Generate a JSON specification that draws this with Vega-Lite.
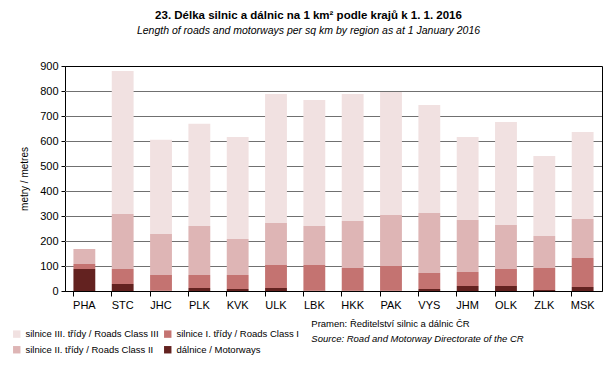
{
  "$schema": "https://vega.github.io/schema/vega-lite/v6.json",
  "width": 537,
  "height": 225,
  "autosize": "none",
  "padding": {"left": 65, "top": 66, "right": 14, "bottom": 74},
  "background": "white",
  "title": {
    "text": "23. Délka silnic a dálnic na 1 km² podle krajů k 1. 1. 2016",
    "subtitle": "Length of roads and motorways per sq km by region as at 1 January 2016",
    "anchor": "middle",
    "dx": -25,
    "offset": 24,
    "font": "Liberation Sans",
    "fontSize": 11.5,
    "fontWeight": "bold",
    "color": "black",
    "subtitleFont": "Liberation Sans",
    "subtitleFontSize": 10.5,
    "subtitleFontStyle": "italic",
    "subtitleColor": "black",
    "subtitlePadding": 4
  },
  "datasets": {
    "roads": [
      {"kraj": "PHA", "trida": "dálnice / Motorways", "k": 1, "value": 88},
      {"kraj": "PHA", "trida": "silnice I. třídy / Roads Class I", "k": 2, "value": 20},
      {"kraj": "PHA", "trida": "silnice II. třídy / Roads Class II", "k": 3, "value": 60},
      {"kraj": "PHA", "trida": "silnice III. třídy / Roads Class III", "k": 4, "value": 0},
      {"kraj": "STC", "trida": "dálnice / Motorways", "k": 1, "value": 28},
      {"kraj": "STC", "trida": "silnice I. třídy / Roads Class I", "k": 2, "value": 60},
      {"kraj": "STC", "trida": "silnice II. třídy / Roads Class II", "k": 3, "value": 220},
      {"kraj": "STC", "trida": "silnice III. třídy / Roads Class III", "k": 4, "value": 572},
      {"kraj": "JHC", "trida": "dálnice / Motorways", "k": 1, "value": 1},
      {"kraj": "JHC", "trida": "silnice I. třídy / Roads Class I", "k": 2, "value": 63},
      {"kraj": "JHC", "trida": "silnice II. třídy / Roads Class II", "k": 3, "value": 164},
      {"kraj": "JHC", "trida": "silnice III. třídy / Roads Class III", "k": 4, "value": 377},
      {"kraj": "PLK", "trida": "dálnice / Motorways", "k": 1, "value": 12},
      {"kraj": "PLK", "trida": "silnice I. třídy / Roads Class I", "k": 2, "value": 52},
      {"kraj": "PLK", "trida": "silnice II. třídy / Roads Class II", "k": 3, "value": 196},
      {"kraj": "PLK", "trida": "silnice III. třídy / Roads Class III", "k": 4, "value": 409},
      {"kraj": "KVK", "trida": "dálnice / Motorways", "k": 1, "value": 8},
      {"kraj": "KVK", "trida": "silnice I. třídy / Roads Class I", "k": 2, "value": 56},
      {"kraj": "KVK", "trida": "silnice II. třídy / Roads Class II", "k": 3, "value": 144},
      {"kraj": "KVK", "trida": "silnice III. třídy / Roads Class III", "k": 4, "value": 408},
      {"kraj": "ULK", "trida": "dálnice / Motorways", "k": 1, "value": 12},
      {"kraj": "ULK", "trida": "silnice I. třídy / Roads Class I", "k": 2, "value": 92},
      {"kraj": "ULK", "trida": "silnice II. třídy / Roads Class II", "k": 3, "value": 168},
      {"kraj": "ULK", "trida": "silnice III. třídy / Roads Class III", "k": 4, "value": 516},
      {"kraj": "LBK", "trida": "dálnice / Motorways", "k": 1, "value": 1},
      {"kraj": "LBK", "trida": "silnice I. třídy / Roads Class I", "k": 2, "value": 103},
      {"kraj": "LBK", "trida": "silnice II. třídy / Roads Class II", "k": 3, "value": 156},
      {"kraj": "LBK", "trida": "silnice III. třídy / Roads Class III", "k": 4, "value": 504},
      {"kraj": "HKK", "trida": "dálnice / Motorways", "k": 1, "value": 1},
      {"kraj": "HKK", "trida": "silnice I. třídy / Roads Class I", "k": 2, "value": 91},
      {"kraj": "HKK", "trida": "silnice II. třídy / Roads Class II", "k": 3, "value": 188},
      {"kraj": "HKK", "trida": "silnice III. třídy / Roads Class III", "k": 4, "value": 508},
      {"kraj": "PAK", "trida": "dálnice / Motorways", "k": 1, "value": 1},
      {"kraj": "PAK", "trida": "silnice I. třídy / Roads Class I", "k": 2, "value": 99},
      {"kraj": "PAK", "trida": "silnice II. třídy / Roads Class II", "k": 3, "value": 204},
      {"kraj": "PAK", "trida": "silnice III. třídy / Roads Class III", "k": 4, "value": 492},
      {"kraj": "VYS", "trida": "dálnice / Motorways", "k": 1, "value": 8},
      {"kraj": "VYS", "trida": "silnice I. třídy / Roads Class I", "k": 2, "value": 64},
      {"kraj": "VYS", "trida": "silnice II. třídy / Roads Class II", "k": 3, "value": 240},
      {"kraj": "VYS", "trida": "silnice III. třídy / Roads Class III", "k": 4, "value": 432},
      {"kraj": "JHM", "trida": "dálnice / Motorways", "k": 1, "value": 20},
      {"kraj": "JHM", "trida": "silnice I. třídy / Roads Class I", "k": 2, "value": 56},
      {"kraj": "JHM", "trida": "silnice II. třídy / Roads Class II", "k": 3, "value": 208},
      {"kraj": "JHM", "trida": "silnice III. třídy / Roads Class III", "k": 4, "value": 332},
      {"kraj": "OLK", "trida": "dálnice / Motorways", "k": 1, "value": 20},
      {"kraj": "OLK", "trida": "silnice I. třídy / Roads Class I", "k": 2, "value": 68},
      {"kraj": "OLK", "trida": "silnice II. třídy / Roads Class II", "k": 3, "value": 176},
      {"kraj": "OLK", "trida": "silnice III. třídy / Roads Class III", "k": 4, "value": 412},
      {"kraj": "ZLK", "trida": "dálnice / Motorways", "k": 1, "value": 4},
      {"kraj": "ZLK", "trida": "silnice I. třídy / Roads Class I", "k": 2, "value": 88},
      {"kraj": "ZLK", "trida": "silnice II. třídy / Roads Class II", "k": 3, "value": 128},
      {"kraj": "ZLK", "trida": "silnice III. třídy / Roads Class III", "k": 4, "value": 320},
      {"kraj": "MSK", "trida": "dálnice / Motorways", "k": 1, "value": 16},
      {"kraj": "MSK", "trida": "silnice I. třídy / Roads Class I", "k": 2, "value": 116},
      {"kraj": "MSK", "trida": "silnice II. třídy / Roads Class II", "k": 3, "value": 156},
      {"kraj": "MSK", "trida": "silnice III. třídy / Roads Class III", "k": 4, "value": 348}
    ],
    "grid": [
      {"value": 100}, {"value": 200}, {"value": 300}, {"value": 400},
      {"value": 500}, {"value": 600}, {"value": 700}, {"value": 800}
    ],
    "pramen": [
      {"kraj": "LBK", "value": -130, "text": "Pramen: Ředitelství silnic a dálnic ČR"}
    ],
    "zdroj": [
      {"kraj": "LBK", "value": -190, "text": "Source: Road and Motorway Directorate of the CR"}
    ]
  },
  "resolve": {"axis": {"x": "independent", "y": "independent"}},
  "layer": [
    {
      "data": {"name": "grid"},
      "mark": {"type": "rule", "color": "#707070", "strokeWidth": 1, "yOffset": 0.5},
      "encoding": {
        "y": {"field": "value", "type": "quantitative", "axis": null}
      }
    },
    {
      "data": {"name": "roads"},
      "mark": {"type": "bar"},
      "encoding": {
        "x": {
          "field": "kraj",
          "type": "nominal",
          "sort": null,
          "scale": {"paddingInner": 0.43, "paddingOuter": 0.22},
          "axis": {
            "title": null,
            "orient": "bottom",
            "labelAngle": 0,
            "bandPosition": 0,
            "tickSize": 5,
            "tickColor": "black",
            "domainColor": "black",
            "labelFont": "Liberation Sans",
            "labelFontSize": 11,
            "labelColor": "black",
            "labelPadding": 3,
            "grid": false
          }
        },
        "y": {
          "field": "value",
          "type": "quantitative",
          "aggregate": "sum",
          "stack": "zero",
          "scale": {"domain": [0, 900], "nice": false},
          "axis": {
            "orient": "left",
            "title": "metry / metres",
            "titleFont": "Liberation Sans",
            "titleFontSize": 10,
            "titleFontWeight": "normal",
            "titleColor": "black",
            "titlePadding": 10,
            "values": [0, 100, 200, 300, 400, 500, 600, 700, 800, 900],
            "labelOverlap": false,
            "labelFont": "Liberation Sans",
            "labelFontSize": 11,
            "labelColor": "black",
            "labelPadding": 3,
            "tickSize": 4,
            "tickColor": "black",
            "domainColor": "black",
            "grid": false
          }
        },
        "color": {
          "field": "trida",
          "type": "nominal",
          "scale": {
            "domain": [
              "silnice III. třídy / Roads Class III",
              "silnice I. třídy / Roads Class I",
              "silnice II. třídy / Roads Class II",
              "dálnice / Motorways"
            ],
            "range": ["#F1E1E1", "#C47371", "#DEB5B5", "#632220"]
          },
          "legend": {
            "title": null,
            "orient": "none",
            "legendX": -53,
            "legendY": 263,
            "direction": "horizontal",
            "columns": 2,
            "columnPadding": 4,
            "rowPadding": 5,
            "symbolType": "square",
            "symbolSize": 55,
            "symbolStrokeWidth": 0,
            "labelFont": "Liberation Sans",
            "labelFontSize": 9.5,
            "labelColor": "black",
            "labelLimit": 200
          }
        },
        "order": {"field": "k", "type": "quantitative", "sort": "ascending"}
      }
    },
    {
      "data": {"name": "pramen"},
      "mark": {"type": "text", "align": "left", "baseline": "middle", "font": "Liberation Sans", "fontSize": 9.5, "color": "black", "dx": -3},
      "encoding": {
        "x": {"field": "kraj", "type": "nominal", "sort": null, "axis": null},
        "y": {"field": "value", "type": "quantitative", "axis": null},
        "text": {"field": "text"}
      }
    },
    {
      "data": {"name": "zdroj"},
      "mark": {"type": "text", "align": "left", "baseline": "middle", "font": "Liberation Sans", "fontSize": 9.5, "fontStyle": "italic", "color": "black", "dx": -3},
      "encoding": {
        "x": {"field": "kraj", "type": "nominal", "sort": null, "axis": null},
        "y": {"field": "value", "type": "quantitative", "axis": null},
        "text": {"field": "text"}
      }
    }
  ],
  "config": {
    "view": {"stroke": "black", "strokeWidth": 1},
    "axis": {"domainWidth": 1, "tickWidth": 1}
  }
}
